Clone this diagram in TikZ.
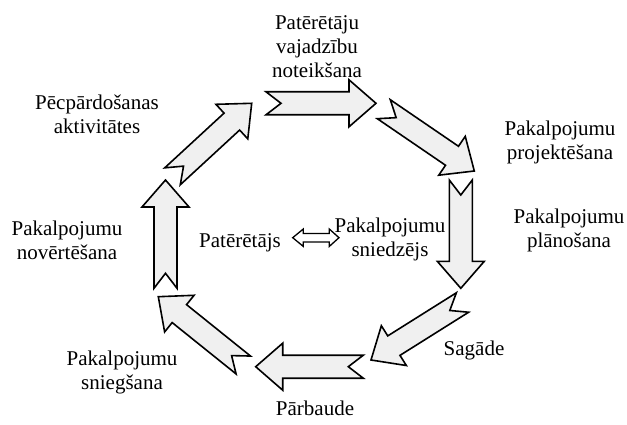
\documentclass[tikz,border=0pt]{standalone}
\usepackage{fontspec}
\setmainfont{Liberation Serif}
\usetikzlibrary{calc}

% Notched block arrow from tail centre #1 to tip #2
\newcommand\cyclearrow[2]{%
  \coordinate (bc) at ($(#2)!27pt!(#1)$);
  \draw[cyclestep]
    ($(#1)!11.5pt!90:(#2)$) -- ($(bc)!11.5pt!90:(#2)$) -- ($(bc)!23.5pt!90:(#2)$)
    -- (#2)
    -- ($(bc)!23.5pt!-90:(#2)$) -- ($(bc)!11.5pt!-90:(#2)$) -- ($(#1)!11.5pt!-90:(#2)$)
    -- ($(#1)!15pt!(#2)$) -- cycle;
}

\begin{document}
\begin{tikzpicture}[x=1pt,y=-1pt,
  cyclestep/.style={draw=black, line width=1.6pt, line join=miter, fill=black!6},
  label/.style={inner sep=0pt, align=center, font=\fontsize{21}{24}\selectfont}]
\useasboundingbox (0,0) rectangle (627,425);

% stage labels
\node[label] (need)     at (317,46.5)  {Patērētāju\\vajadzību\\noteikšana};
\node[label] (design)   at (560,142.5) {Pakalpojumu\\projektēšana};
\node[label] (plan)     at (569,230.5) {Pakalpojumu\\plānošana};
\node[label] (supply)   at (474,350)   {Sagāde};
\node[label] (check)    at (315,408)   {Pārbaude};
\node[label] (deliver)  at (122,372.5) {Pakalpojumu\\sniegšana};
\node[label] (eval)     at (67,240)    {Pakalpojumu\\novērtēšana};
\node[label] (after)    at (97,114)    {Pēcpārdošanas\\aktivitātes};
\node[label] (consumer) at (240,243)   {Patērētājs};
\node[label] (provider) at (390,239.5) {Pakalpojumu\\sniedzējs};

% tail and tip of each step arrow
\coordinate (a1) at (266,103.3);   \coordinate (b1) at (376,103.3);
\coordinate (a2) at (383.8,109.2); \coordinate (b2) at (474.3,171);
\coordinate (a3) at (460.8,180);   \coordinate (b3) at (460.8,288.3);
\coordinate (a4) at (462.5,302.5); \coordinate (b4) at (371,360);
\coordinate (a5) at (363.3,366.7); \coordinate (b5) at (255.7,366.7);
\coordinate (a6) at (243.3,365);   \coordinate (b6) at (158.3,296.7);
\coordinate (a7) at (165.5,288.3); \coordinate (b7) at (165.5,180);
\coordinate (a8) at (172.5,176.3); \coordinate (b8) at (251.7,103.3);

\cyclearrow{a1}{b1}
\cyclearrow{a2}{b2}
\cyclearrow{a3}{b3}
\cyclearrow{a4}{b4}
\cyclearrow{a5}{b5}
\cyclearrow{a6}{b6}
\cyclearrow{a7}{b7}
\cyclearrow{a8}{b8}

% two-way arrow between consumer and provider
\coordinate (dl) at (292.7,237.7);
\coordinate (dr) at (339,237.7);
\draw[line width=1.3pt, fill=white, line join=miter]
  (dl) -- (303.3,229) -- (303.3,233.5) -- (329.3,233.5) -- (329.3,229)
  -- (dr) -- (329.3,246.4) -- (329.3,241.9) -- (303.3,241.9) -- (303.3,246.4) -- cycle;
\end{tikzpicture}
\end{document}
